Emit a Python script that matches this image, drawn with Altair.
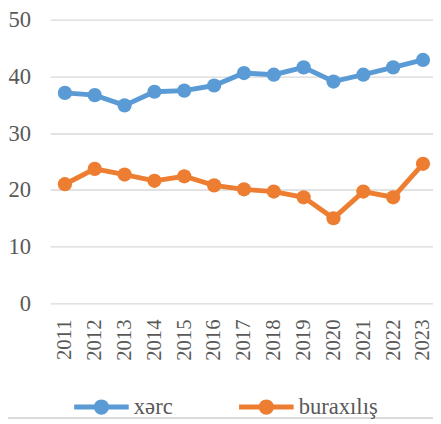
import altair as alt
import pandas as pd

years = [str(y) for y in range(2011, 2024)]
xerc = [37.1, 36.7, 34.9, 37.3, 37.5, 38.4, 40.6, 40.3, 41.6, 39.1, 40.3, 41.6, 42.9]
buraxilis = [21.0, 23.7, 22.7, 21.6, 22.4, 20.8, 20.1, 19.7, 18.7, 15.0, 19.7, 18.7, 24.6]
series_names = ["xərc", "buraxılış"]
series_colors = ["#5B9BD5", "#ED7D31"]

rows = []
for name, vals in zip(series_names, [xerc, buraxilis]):
    for y, v in zip(years, vals):
        rows.append({"year": y, "value": v, "series": name})
df = pd.DataFrame(rows)

FONT = "Liberation Serif"
TXT = "#595959"

legend_path = ("M-1,0L1,0M-0.19,0A0.19,0.19,0,1,1,0.19,0"
               "A0.19,0.19,0,1,1,-0.19,0Z")

color = alt.Color(
    "series:N",
    scale=alt.Scale(domain=series_names, range=series_colors),
    legend=alt.Legend(
        title=None,
        orient="none",
        direction="horizontal",
        legendX=21.7,
        legendY=364,
        padding=0,
        symbolType=legend_path,
        symbolSize=3090,
        symbolStrokeWidth=5,
        symbolOpacity=1,
        labelFont=FONT,
        labelFontSize=23,
        labelColor=TXT,
        labelOffset=2.5,
        columnPadding=56,
    ),
)

x = alt.X(
    "year:O",
    sort=years,
    scale=alt.Scale(type="point", padding=0.414, align=0.595),
    axis=alt.Axis(
        title=None,
        labelAngle=-90,
        labelFont=FONT,
        labelFontSize=21,
        labelColor=TXT,
        labelPadding=16,
        ticks=False,
        domain=False,
        grid=False,
    ),
)
y = alt.Y(
    "value:Q",
    scale=alt.Scale(domain=[0, 50], nice=False),
    axis=alt.Axis(
        title=None,
        values=[0, 10, 20, 30, 40, 50],
        labelFont=FONT,
        labelFontSize=23,
        labelColor=TXT,
        labelPadding=20,
        ticks=False,
        domain=False,
        grid=True,
        gridColor="#D9D9D9",
        gridWidth=1.4,
    ),
)

lines = alt.Chart(df).mark_line(strokeWidth=5).encode(
    x=x, y=y, color=color, detail="series:N"
)
points = alt.Chart(df).mark_point(filled=True, size=210, opacity=1).encode(
    x=x, y=y, color=color
)
border = alt.Chart(df).mark_rule(color="#D9D9D9", strokeWidth=1.2).encode(
    x=alt.value(-43), x2=alt.value(390), y=alt.value(406)
)

chart = alt.layer(lines, points, border).properties(
    width=390,
    height=289,
    autosize=alt.AutoSizeParams(type="none"),
    padding={"left": 43, "top": 8, "right": 0, "bottom": 119},
).configure(
    background="white", font=FONT
).configure_view(stroke=None).configure_legend(
    labelFont=FONT
)

chart.save("out.html", embed_options={"renderer": "svg", "actions": False})
